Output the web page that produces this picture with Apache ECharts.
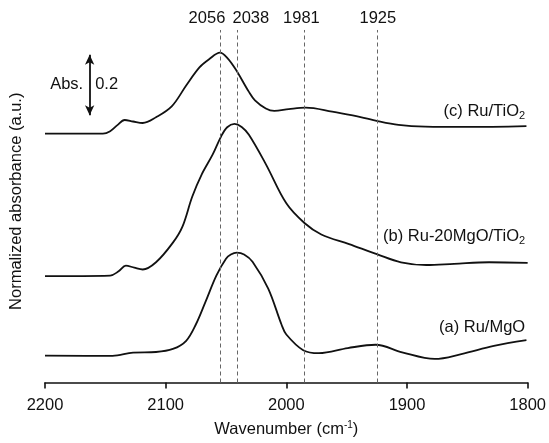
<!DOCTYPE html>
<html>
<head>
<meta charset="utf-8">
<script src="https://cdn.jsdelivr.net/npm/echarts@6/dist/echarts.min.js"></script>
<style>
  html, body { margin: 0; padding: 0; background: #fff; }
  #main { width: 549px; height: 443px; }
</style>
</head>
<body>
<div id="main"></div>
<script>
// IR spectra, offset stacked: (a) Ru/MgO, (b) Ru-20MgO/TiO2, (c) Ru/TiO2
var cWave = [2200, 2152, 2146, 2140, 2134, 2127, 2119, 2108, 2095, 2083, 2072, 2064, 2055, 2049, 2042, 2031, 2026, 2017, 2010, 1998, 1984, 1962, 1945, 1926, 1907, 1885, 1850, 1801];
var cAbs  = [0.824, 0.824, 0.832, 0.852, 0.869, 0.864, 0.859, 0.878, 0.914, 0.983, 1.043, 1.070, 1.092, 1.075, 1.037, 0.962, 0.934, 0.907, 0.899, 0.905, 0.910, 0.897, 0.884, 0.867, 0.853, 0.847, 0.846, 0.849];

var bWave = [2200, 2146, 2139, 2133, 2126, 2119, 2108, 2094, 2086, 2078, 2070, 2061, 2054, 2049, 2043, 2037, 2031, 2017, 2000, 1985, 1971, 1948, 1925, 1905, 1884, 1861, 1832, 1800];
var bAbs  = [0.352, 0.354, 0.368, 0.387, 0.380, 0.374, 0.398, 0.463, 0.517, 0.615, 0.690, 0.755, 0.815, 0.845, 0.856, 0.846, 0.820, 0.723, 0.593, 0.528, 0.490, 0.458, 0.425, 0.398, 0.389, 0.393, 0.398, 0.396];

var aWave = [2200, 2144, 2127, 2108, 2094, 2083, 2075, 2067, 2058, 2050, 2046, 2041, 2035, 2028, 2015, 2004, 2000, 1986, 1973, 1949, 1926, 1904, 1877, 1855, 1828, 1801];
var aAbs  = [0.089, 0.088, 0.099, 0.101, 0.111, 0.138, 0.192, 0.267, 0.354, 0.410, 0.424, 0.430, 0.424, 0.400, 0.311, 0.192, 0.159, 0.107, 0.097, 0.114, 0.125, 0.100, 0.078, 0.094, 0.121, 0.140];

var peakLabels = ['2056', '2038', '1981', '1925'];
var peakLines  = [2055, 2041, 1985, 1925];   // where the dashed lines sit in the figure
var peakLabelShift = [-13, 14, -3, 1];

var xTicks = [2200, 2100, 2000, 1900, 1800];

function zip(xs, ys) {
  var out = [];
  for (var i = 0; i < xs.length; i++) out.push([xs[i], ys[i]]);
  return out;
}

var font = 'Liberation Sans, Arial, sans-serif';
var ink = '#111';
var fs = 16.5;

var subRich = {
  t: { fontSize: fs, fontFamily: font, color: ink },
  s: { fontSize: 11, fontFamily: font, color: ink, padding: [9, 0, 0, 0] }
};

function curveLabel(x, y, text, dy) {
  return {
    coord: [x, y],
    symbol: 'circle',
    symbolSize: 1,
    itemStyle: { color: 'rgba(0,0,0,0)' },
    label: {
      show: true, position: 'left', distance: 2, offset: [0, dy],
      formatter: text, rich: subRich
    }
  };
}

var dashLines = [];
for (var i = 0; i < peakLines.length; i++) {
  dashLines.push([
    { coord: [peakLines[i], 0] },
    {
      coord: [peakLines[i], 1.167],
      label: {
        show: true, position: 'end', distance: 3, offset: [peakLabelShift[i], 0],
        formatter: peakLabels[i], fontSize: fs, fontFamily: font, color: ink
      }
    }
  ]);
}

var myChart = echarts.init(document.getElementById('main'));

var option = {
  animation: false,
  grid: { left: 45, right: 20, top: 20, bottom: 54 },
  xAxis: {
    type: 'value',
    inverse: true,
    min: 1800,
    max: 2200,
    interval: 100,
    name: 'Wavenumber (cm{sup|-1})',
    nameLocation: 'middle',
    nameGap: 38,
    nameTextStyle: {
      fontSize: fs, fontFamily: font, color: ink,
      rich: { sup: { fontSize: 10, fontFamily: font, color: ink, padding: [0, 0, 8, 0] } }
    },
    axisLine: { show: true, lineStyle: { color: ink, width: 1.6 } },
    axisTick: { show: true, length: 6, lineStyle: { color: ink, width: 1.6 } },
    axisLabel: {
      fontSize: fs, fontFamily: font, color: ink, margin: 14,
      customValues: xTicks,
      formatter: function (v) { return String(v); }
    },
    splitLine: { show: false }
  },
  yAxis: {
    type: 'value',
    min: 0,
    max: 1.2,
    name: 'Normalized absorbance (a.u.)',
    nameLocation: 'middle',
    nameGap: 20,
    nameTextStyle: { fontSize: fs, fontFamily: font, color: ink },
    axisLine: { show: false },
    axisTick: { show: false },
    axisLabel: { show: false },
    splitLine: { show: false }
  },
  series: [
    {
      name: '(a) Ru/MgO',
      type: 'line',
      data: zip(aWave, aAbs),
      smooth: 0.35,
      showSymbol: false,
      clip: false,
      lineStyle: { color: ink, width: 1.8 },
      markLine: {
        silent: true,
        symbol: 'none',
        animation: false,
        lineStyle: { color: '#666', width: 1, type: [4, 3] },
        data: dashLines
      },
      markPoint: {
        silent: true,
        data: [curveLabel(1800, 0.140, '{t|(a) Ru/MgO}', -13)]
      }
    },
    {
      name: '(b) Ru-20MgO/TiO2',
      type: 'line',
      data: zip(bWave, bAbs),
      smooth: 0.35,
      showSymbol: false,
      clip: false,
      lineStyle: { color: ink, width: 1.8 },
      markPoint: {
        silent: true,
        data: [curveLabel(1800, 0.396, '{t|(b) Ru-20MgO/TiO}{s|2}', -26)]
      },
      markLine: {
        silent: true,
        symbol: 'none',
        animation: false,
        label: { show: false },
        lineStyle: { color: ink, width: 1.6, type: 'solid' },
        data: [[{ coord: [2050, 0] }, { coord: [2050, -0.02] }]]
      }
    },
    {
      name: '(c) Ru/TiO2',
      type: 'line',
      data: zip(cWave, cAbs),
      smooth: 0.35,
      showSymbol: false,
      lineStyle: { color: ink, width: 1.8 },
      markPoint: {
        silent: true,
        data: [
          curveLabel(1800, 0.849, '{t|(c) Ru/TiO}{s|2}', -15),
          {
            coord: [2163, 0.985], symbol: 'circle', symbolSize: 1,
            itemStyle: { color: 'rgba(0,0,0,0)' },
            label: { show: true, position: 'left', distance: 6, formatter: 'Abs.', fontSize: fs, fontFamily: font, color: ink }
          },
          {
            coord: [2163, 0.985], symbol: 'circle', symbolSize: 1,
            itemStyle: { color: 'rgba(0,0,0,0)' },
            label: { show: true, position: 'right', distance: 5, formatter: '0.2', fontSize: fs, fontFamily: font, color: ink }
          }
        ]
      },
      markLine: {
        silent: true,
        symbol: ['arrow', 'arrow'],
        symbolSize: [7, 10],
        animation: false,
        label: { show: false },
        lineStyle: { color: ink, width: 1.8, type: 'solid' },
        data: [[{ coord: [2163, 0.885] }, { coord: [2163, 1.085] }]]
      }
    }
  ]
};

myChart.setOption(option);
</script>
</body>
</html>
